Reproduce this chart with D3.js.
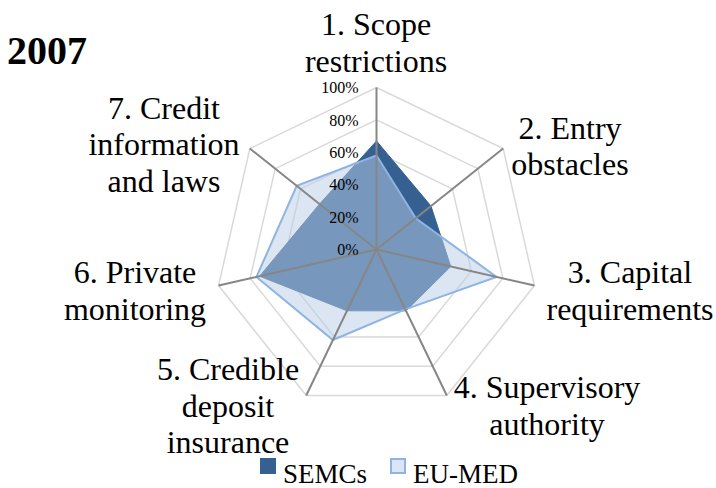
<!DOCTYPE html>
<html>
<head>
<meta charset="utf-8">
<script src="https://cdn.jsdelivr.net/npm/d3@7"></script>
<style>
  body { margin: 0; background: #fff; }
</style>
</head>
<body>
<div id="radar-container"></div>
<script>
// CONST and GLOBALS
const width = 716,
  height = 488,
  center = { x: 376.5, y: 249.5 },
  radius = 162,
  lineHeight = 36.5,
  serif = "'Liberation Serif', 'Times New Roman', Times, serif";

// DATA
const categories = [
  ["1. Scope", "restrictions"],
  ["2. Entry", "obstacles"],
  ["3. Capital", "requirements"],
  ["4. Supervisory", "authority"],
  ["5. Credible", "deposit", "insurance"],
  ["6. Private", "monitoring"],
  ["7. Credit", "information", "and laws"],
];
const semcs = [0.67, 0.43, 0.47, 0.42, 0.42, 0.74, 0.45];
const euMed = [0.58, 0.31, 0.76, 0.41, 0.62, 0.76, 0.63];
const ticks = [0, 0.2, 0.4, 0.6, 0.8, 1];
const seriesNames = ["SEMCs", "EU-MED"];

// label anchor points (centre x, first baseline)
const labelPos = [
  { x: 376, y: 35 },
  { x: 570, y: 138.5 },
  { x: 630, y: 283 },
  { x: 547, y: 398 },
  { x: 228, y: 380 },
  { x: 135, y: 283 },
  { x: 164, y: 118.5 },
];

const svg = d3
  .select("#radar-container")
  .append("svg")
  .attr("width", width)
  .attr("height", height)
  .attr("font-family", serif);

const rScale = d3.scaleLinear().domain([0, 1]).range([0, radius]);
const angle = (i) => (i * 2 * Math.PI) / categories.length;

const g = svg
  .append("g")
  .attr("transform", `translate(${center.x},${center.y})`);

const radial = d3
  .lineRadial()
  .angle((d, i) => angle(i))
  .radius((d) => rScale(d))
  .curve(d3.curveLinearClosed);

// grid rings
g.selectAll(".ring")
  .data(ticks.slice(1))
  .join("path")
  .attr("class", "ring")
  .attr("d", (t) => radial(categories.map(() => t)))
  .attr("fill", "none")
  .attr("stroke", "#d9d9d9")
  .attr("stroke-width", 1.5);

// series
g.append("path")
  .attr("d", radial(semcs))
  .attr("fill", "#376092")
  .attr("stroke", "#376092")
  .attr("stroke-width", 1);

g.append("path")
  .attr("d", radial(euMed))
  .attr("fill", "#b9cde5")
  .attr("fill-opacity", 0.5)
  .attr("stroke", "#8eb4e3")
  .attr("stroke-width", 2);

// spokes
g.selectAll(".spoke")
  .data(categories)
  .join("line")
  .attr("class", "spoke")
  .attr("x1", 0)
  .attr("y1", 0)
  .attr("x2", (d, i) => rScale(1) * Math.sin(angle(i)))
  .attr("y2", (d, i) => -rScale(1) * Math.cos(angle(i)))
  .attr("stroke", "#868686")
  .attr("stroke-width", 2);

// tick labels
g.selectAll(".tick-label")
  .data(ticks)
  .join("text")
  .attr("class", "tick-label")
  .attr("x", -18)
  .attr("y", (t) => -rScale(t))
  .attr("dy", "0.35em")
  .attr("text-anchor", "end")
  .attr("font-size", 16)
  .text(d3.format(".0%"));

// category labels
svg
  .selectAll(".cat-label")
  .data(categories)
  .join("text")
  .attr("class", "cat-label")
  .attr("text-anchor", "middle")
  .attr("font-size", 32)
  .each(function (lines, i) {
    d3.select(this)
      .selectAll("tspan")
      .data(lines)
      .join("tspan")
      .attr("x", labelPos[i].x)
      .attr("y", (l, j) => labelPos[i].y + j * lineHeight)
      .text((l) => l);
  });

// year
svg
  .append("text")
  .attr("x", 7)
  .attr("y", 64)
  .attr("font-size", 40)
  .attr("font-weight", "bold")
  .text("2007");

// legend
const legend = svg
  .selectAll(".legend")
  .data(seriesNames)
  .join("g")
  .attr("class", "legend")
  .attr("transform", (d, i) => `translate(${i === 0 ? 260 : 390},458)`);

legend
  .append("rect")
  .attr("x", (d, i) => (i === 0 ? 0 : 1))
  .attr("y", (d, i) => (i === 0 ? 0 : 1))
  .attr("width", (d, i) => (i === 0 ? 16 : 14))
  .attr("height", (d, i) => (i === 0 ? 16 : 14))
  .attr("fill", (d, i) => (i === 0 ? "#376092" : "#dce6f2"))
  .attr("stroke", (d, i) => (i === 0 ? "none" : "#8eb4e3"))
  .attr("stroke-width", 2);

legend
  .append("text")
  .attr("x", 23)
  .attr("y", 24.5)
  .attr("font-size", 27)
  .text((d) => d);
</script>
</body>
</html>
